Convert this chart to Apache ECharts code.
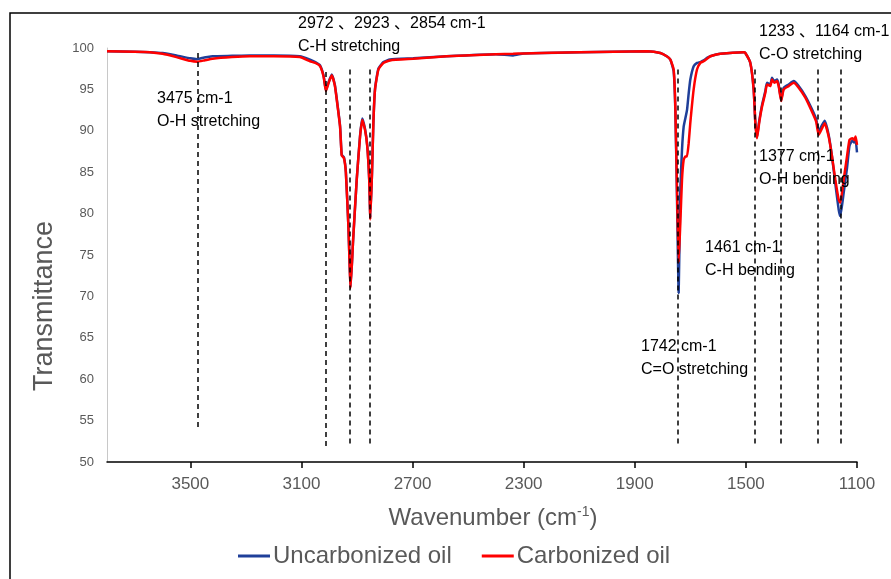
<!DOCTYPE html>
<html>
<head>
<meta charset="utf-8">
<script src="https://cdn.jsdelivr.net/npm/echarts@6/dist/echarts.min.js"></script>
<style>
html, body { margin: 0; padding: 0; background: #fff; }
#main { width: 891px; height: 579px; }
</style>
</head>
<body>
<div id="main"></div>
<script>
var myChart = echarts.init(document.getElementById('main'));

// wavenumber (cm-1)
var wavenumbers = [3800, 3700, 3646, 3600, 3550, 3500, 3475, 3450, 3420, 3350, 3286, 3200, 3106, 3069, 3050, 3033,
    3020, 3012, 3002, 2991, 2980, 2973, 2961, 2955, 2947, 2940, 2931, 2923, 2914, 2901, 2889, 2881, 2871, 2863,
    2856, 2852, 2846, 2841, 2835, 2823, 2805, 2781, 2698, 2577, 2400, 2338, 2300, 2097, 1855, 1808, 1785, 1772,
    1760, 1754, 1748, 1742, 1736, 1730, 1724, 1718, 1712, 1706, 1700, 1688, 1676, 1664, 1652, 1640, 1628, 1592,
    1508, 1502, 1484, 1472, 1466, 1460, 1452, 1442, 1430, 1424, 1412, 1406, 1398, 1388, 1382, 1373, 1364, 1346,
    1328, 1310, 1286, 1262, 1247, 1238, 1226, 1216, 1202, 1190, 1178, 1166, 1160, 1148, 1136, 1127, 1117, 1110,
    1105, 1100];
var uncarbonized = [99.6, 99.55, 99.5, 99.4, 99.1, 98.75, 98.65, 98.85, 99.0, 99.05, 99.1, 99.1, 99.0, 98.6, 98.3, 97.9,
    96.6, 94.9, 95.9, 96.8, 95.6, 93.9, 90.6, 87.1, 86.8, 85.0, 78.5, 71.2, 76.8, 84.1, 89.4, 91.5, 90.2, 88.2,
    84.1, 79.5, 84.9, 91.0, 95.1, 97.5, 98.3, 98.6, 98.75, 99.0, 99.25, 99.1, 99.35, 99.5, 99.6, 99.4, 99.0, 98.6,
    97.2, 92.5, 82.0, 70.4, 82.9, 87.7, 90.5, 91.5, 92.5, 94.5, 96.2, 97.8, 98.2, 98.3, 98.5, 98.8, 99.0, 99.3,
    99.5, 99.4, 98.2, 95.0, 91.0, 89.2, 91.2, 93.1, 94.8, 95.8, 95.6, 96.4, 96.0, 96.2, 95.6, 93.7, 95.2, 95.6,
    96.0, 95.4, 94.2, 92.6, 91.4, 89.9, 90.7, 91.2, 89.5, 86.9, 83.6, 80.5, 79.7, 82.5, 85.5, 88.2, 88.8, 88.6,
    88.9, 87.4];
var carbonized = [99.6, 99.55, 99.5, 99.3, 98.9, 98.45, 98.35, 98.5, 98.7, 98.9, 99.0, 99.0, 98.9, 98.4, 98.2, 97.8,
    96.5, 94.8, 95.8, 96.7, 95.5, 93.8, 90.5, 87.0, 86.7, 84.9, 78.5, 71.0, 76.8, 84.1, 89.3, 91.3, 90.1, 88.1,
    84.1, 79.3, 84.9, 91.0, 95.0, 97.4, 98.2, 98.5, 98.7, 99.0, 99.25, 99.3, 99.35, 99.5, 99.6, 99.4, 99.0, 98.6,
    97.4, 92.9, 82.9, 74.1, 78.9, 84.1, 86.5, 86.9, 86.9, 88.5, 91.0, 95.0, 97.4, 98.2, 98.4, 98.7, 99.0, 99.3,
    99.5, 99.4, 98.2, 95.0, 91.0, 89.1, 91.0, 92.9, 94.6, 95.6, 95.4, 96.2, 95.8, 96.0, 95.4, 93.6, 95.0, 95.4,
    95.8, 95.2, 94.0, 92.3, 91.1, 89.5, 90.3, 90.9, 89.3, 86.9, 84.1, 81.7, 81.3, 84.1, 86.9, 88.9, 89.1, 88.9,
    89.3, 88.3];

var xTicks = [1100, 1500, 1900, 2300, 2700, 3100, 3500];

// dashed marker lines: position, top and bottom (transmittance)
var peakX = [3475, 3014, 2926, 2853, 1747, 1468, 1376, 1242, 1160];
var peakTop = [99.4, 97.1, 97.4, 97.4, 97.4, 97.4, 97.4, 97.4, 97.4];
var peakBottom = [54.1, 51.7, 52.0, 52.0, 52.2, 51.8, 52.0, 52.2, 52.2];

var notes = [
    { text: '2972 、2923 、2854 cm-1\nC-H stretching', x: 298, y: 12 },
    { text: '3475 cm-1\nO-H stretching', x: 157, y: 87 },
    { text: '1233 、1164 cm-1\nC-O stretching', x: 759, y: 20 },
    { text: '1377 cm-1\nO-H bending', x: 759, y: 145 },
    { text: '1461 cm-1\nC-H bending', x: 705, y: 236 },
    { text: '1742 cm-1\nC=O stretching', x: 641, y: 335 }
];

var toPairs = function (xs, ys) {
    var res = [];
    for (var i = 0; i < xs.length; i++) {
        res.push([xs[i], ys[i]]);
    }
    return res;
};

var peakLines = [];
for (var i = 0; i < peakX.length; i++) {
    peakLines.push([{ coord: [peakX[i], peakTop[i]] }, { coord: [peakX[i], peakBottom[i]] }]);
}

var fontName = '"Liberation Sans", "Noto Sans CJK SC", sans-serif';

var graphics = [{
    type: 'rect',
    shape: { x: 10, y: 13, width: 920, height: 620 },
    style: { fill: 'none', stroke: '#000', lineWidth: 1.5 },
    silent: true
}, {
    // y axis title
    type: 'text',
    x: 45,
    y: 306,
    rotation: Math.PI / 2,
    style: {
        text: 'Transmittance',
        fill: '#595959',
        font: '27px ' + fontName,
        align: 'center',
        verticalAlign: 'middle'
    }
}, {
    // x axis title
    type: 'text',
    x: 493,
    y: 518,
    style: {
        text: 'Wavenumber (cm{sup|-1})',
        fill: '#595959',
        font: '24px ' + fontName,
        align: 'center',
        verticalAlign: 'middle',
        rich: {
            sup: { fontSize: 14, fill: '#595959', padding: [0, 0, 12, 0] }
        }
    }
}];
notes.forEach(function (n) {
    graphics.push({
        type: 'text',
        left: n.x,
        top: n.y,
        z: 100,
        style: {
            text: n.text,
            fill: '#000',
            font: '16px ' + fontName,
            lineHeight: 23
        }
    });
});

option = {
    animation: false,
    textStyle: { fontFamily: fontName },
    grid: { left: 107, right: 34, top: 48, bottom: 117 },
    legend: {
        top: 539,
        left: 233,
        itemWidth: 32,
        itemHeight: 3,
        itemGap: 30,
        icon: 'rect',
        textStyle: { color: '#595959', fontSize: 24, padding: [0, 0, 0, -2] },
        data: ['Uncarbonized oil', 'Carbonized oil']
    },
    xAxis: {
        type: 'value',
        inverse: true,
        min: 1100,
        max: 3800,
        axisLine: { show: true, lineStyle: { color: '#000', width: 1.5 } },
        axisTick: { show: true, length: 6, customValues: xTicks, lineStyle: { color: '#000', width: 1.5 } },
        axisLabel: {
            customValues: xTicks,
            color: '#595959',
            fontSize: 17,
            margin: 14,
            formatter: function (v) { return String(v); }
        },
        splitLine: { show: false }
    },
    yAxis: {
        type: 'value',
        min: 50,
        max: 100,
        interval: 5,
        axisLine: { show: true, lineStyle: { color: '#c8c8c8', width: 1 } },
        axisTick: { show: false },
        axisLabel: { color: '#595959', fontSize: 13, margin: 13 },
        splitLine: { show: false }
    },
    graphic: graphics,
    series: [{
        name: 'Uncarbonized oil',
        type: 'line',
        data: toPairs(wavenumbers, uncarbonized),
        showSymbol: false,
        smooth: 0.15,
        color: '#1f3f99',
        lineStyle: { color: '#1f3f99', width: 2.5 },
        markLine: {
            silent: true,
            symbol: ['none', 'none'],
            label: { show: false },
            lineStyle: { color: '#000', width: 1.5, type: [5, 4] },
            data: peakLines
        }
    }, {
        name: 'Carbonized oil',
        type: 'line',
        data: toPairs(wavenumbers, carbonized),
        showSymbol: false,
        smooth: 0.15,
        color: '#ff0000',
        lineStyle: { color: '#ff0000', width: 2.5 }
    }]
};
myChart.setOption(option);
</script>
</body>
</html>
